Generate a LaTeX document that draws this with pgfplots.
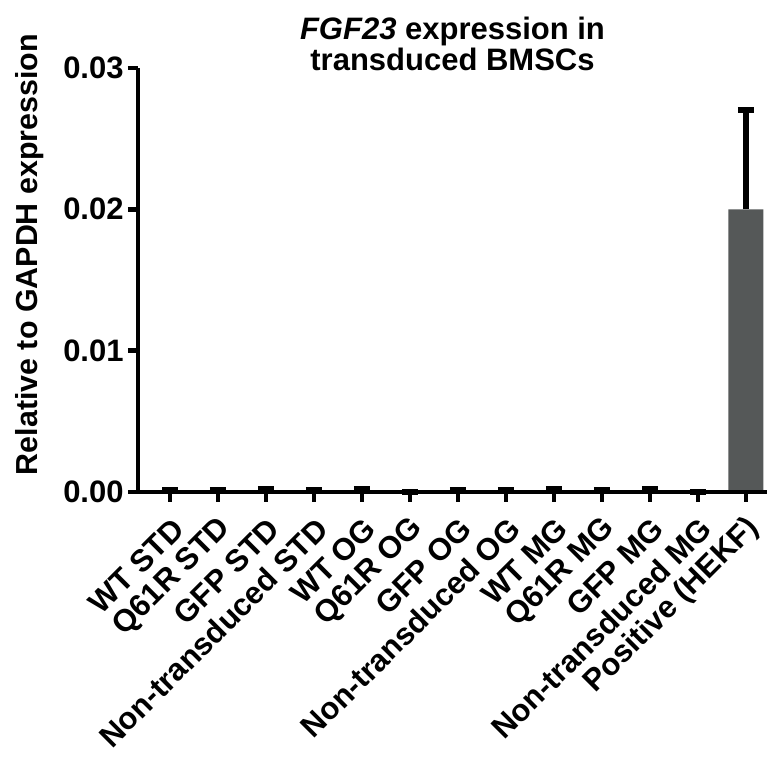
\documentclass[border=0pt]{standalone}
\usepackage{pgfplots}
\pgfplotsset{compat=1.18}
\usepackage{fontspec}
\setmainfont{Liberation Sans}
\definecolor{bargray}{RGB}{85,88,88}
\begin{document}
\begin{tikzpicture}
\begin{axis}[
  at={(0,0)}, anchor=south west,
  scale only axis,
  width=314.5pt, height=212pt,
  xmin=-0.667, xmax=12.44,
  ymin=0, ymax=0.03,
  axis x line*=bottom, axis y line*=left,
  axis line style={line width=2.2pt},
  every tick/.style={black, line width=2.2pt},
  major tick length=5pt,
  tick align=outside,
  xtick={0,...,12},
  xticklabels={WT STD, Q61R STD, GFP STD, Non-transduced STD, WT OG, Q61R OG, GFP OG, Non-transduced OG, WT MG, Q61R MG, GFP MG, Non-transduced MG, Positive (HEKF)},
  x tick label style={xshift=5pt, yshift=-10pt, rotate=45, anchor=east, font=\bfseries\fontsize{15.5}{16}\selectfont, inner sep=1pt},
  ytick={0,0.01,0.02,0.03},
  yticklabels={0.00,0.01,0.02,0.03},
  y tick label style={font=\bfseries\fontsize{15.5}{16}\selectfont, inner sep=2pt},
  scaled y ticks=false,
  /pgf/number format/assume math mode=true,
  ylabel={Relative to GAPDH expression},
  ylabel style={font=\bfseries\fontsize{15.2}{16}\selectfont, at={(axis description cs:-0.172,0.56)}, anchor=center},
  title={\textit{FGF23} expression in\\transduced BMSCs},
  title style={font=\bfseries\fontsize{15.5}{15.5}\selectfont, align=center, at={(axis description cs:0.5,1)}, anchor=south, yshift=-11pt},
  axis on top=true,
  clip=false,
]
\addplot[
  ybar, bar width=17.5pt, fill=bargray, draw=none,
  error bars/.cd, y dir=plus, y explicit,
  error bar style={line width=3pt, black},
  error mark options={rotate=90, mark size=4pt, line width=3pt, black},
] table[x=x, y=y, y error=e] {
x y e
0 0.00005 0.0001
1 0.00005 0.0001
2 0.00008 0.00015
3 0.00005 0.0001
4 0.00008 0.00015
5 0 0
6 0.00005 0.0001
7 0.00005 0.0001
8 0.00008 0.00015
9 0.00005 0.0001
10 0.00008 0.00015
11 0 0
12 0.0200 0.0070
};
\end{axis}
\pgfresetboundingbox
\path[use as bounding box] (-69pt,-133pt) rectangle (315pt,246pt);
\end{tikzpicture}
\end{document}
